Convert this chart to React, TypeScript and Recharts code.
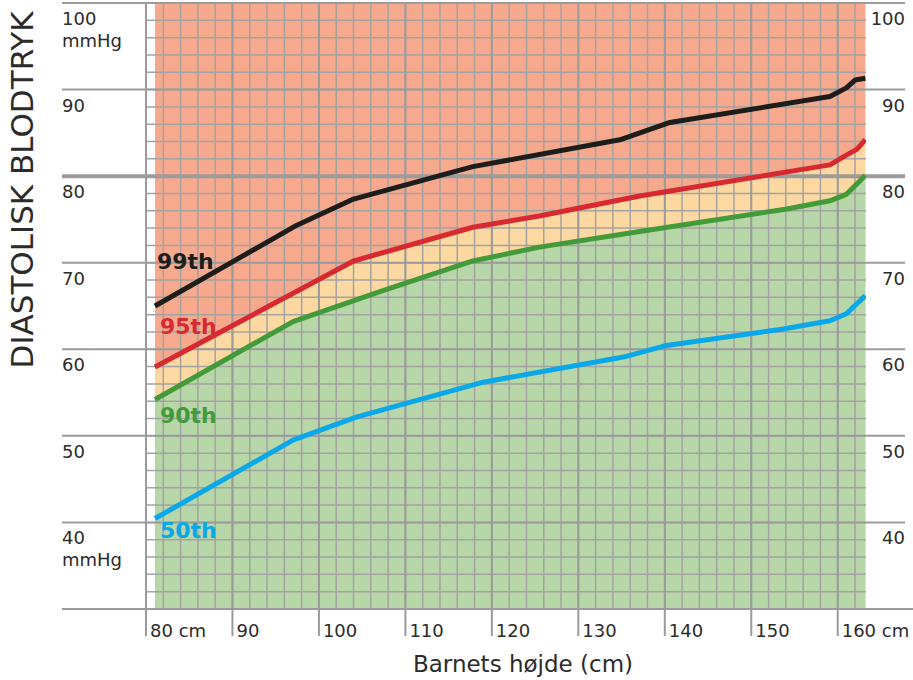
import React from 'react';
import {
  ComposedChart,
  Line,
  Area,
  XAxis,
  YAxis,
  CartesianGrid,
  ReferenceLine,
  LabelList,
} from 'recharts';

// ---------- data (height in cm, diastolic pressure in mmHg) ----------
const p99Height = [81.04, 97.2, 104.0, 117.8, 134.8, 140.6, 159.1, 161.0, 162.0, 163.2];
const p99Value = [65.0, 74.2, 77.35, 81.1, 84.2, 86.2, 89.2, 90.2, 91.1, 91.3];

const p95Height = [81.04, 104.0, 117.8, 125.5, 137.1, 159.1, 160.6, 162.2, 163.2];
const p95Value = [57.95, 70.2, 74.1, 75.4, 77.7, 81.3, 82.2, 83.1, 84.2];

const p90Height = [81.04, 97.0, 107.05, 117.8, 125.5, 137.1, 154.1, 159.1, 161.0, 162.2, 163.2];
const p90Value = [54.2, 63.2, 66.65, 70.2, 71.8, 73.6, 76.2, 77.15, 77.9, 79.1, 80.1];

const p50Height = [81.04, 97.0, 104.4, 119.0, 135.2, 140.0, 153.7, 159.1, 161.0, 163.2];
const p50Value = [40.45, 49.5, 52.2, 56.2, 59.1, 60.4, 62.35, 63.3, 64.1, 66.2];

const xTickValues = [80, 90, 100, 110, 120, 130, 140, 150, 160];
const xTickLabels = ['80 cm', '90', '100', '110', '120', '130', '140', '150', '160 cm'];
const yTickValues = [30, 40, 50, 60, 70, 80, 90, 100];
const yLeftLabels = [[], ['40', 'mmHg'], ['50'], ['60'], ['70'], ['80'], ['90'], ['100', 'mmHg']];
const yRightLabels = ['', '40', '50', '60', '70', '80', '90', '100'];

const xMinor = Array.from({ length: 42 }, (_, i) => 80 + i * 2);
const yMinor = Array.from({ length: 36 }, (_, i) => 30 + i * 2);

const X_DOMAIN: [number, number] = [80, 163.27];
const Y_DOMAIN: [number, number] = [30, 100];
const TOP_VALUE = 100;

const toRows = (xs: number[], ys: number[]) => xs.map((x, i) => ({ x, y: ys[i] }));
const p99 = toRows(p99Height, p99Value);
const p95 = toRows(p95Height, p95Value);
const p90 = toRows(p90Height, p90Value);
const p50 = toRows(p50Height, p50Value);

// ---------- style ----------
const W = 913;
const H = 680;
const FONT = "'DejaVu Sans', sans-serif";
const MAJOR = '#9b9b9b';
const MINOR = '#a3a3a3';
const SALMON = '#f6a98c';
const ORANGE = '#fdd9a1';
const GREEN = '#b7d7a9';
const TEXT = '#2b2b2b';

const PLOT_MARGIN = { top: 3, right: 47, bottom: 71, left: 146 };

const XTick = (props: any) => {
  const { x, y, payload } = props;
  const idx = xTickValues.indexOf(payload.value);
  return (
    <g>
      <line x1={x} x2={x} y1={y} y2={y + 27} stroke={MAJOR} strokeWidth={2} />
      <text x={x + 4} y={y + 28} fontSize={18} fill={TEXT} fontFamily={FONT}>
        {xTickLabels[idx]}
      </text>
    </g>
  );
};

const LeftTick = (props: any) => {
  const { x, y, payload } = props;
  const idx = yTickValues.indexOf(payload.value);
  const lines = yLeftLabels[idx] || [];
  return (
    <g>
      <line x1={x - 84} x2={x} y1={y} y2={y} stroke={MAJOR} strokeWidth={payload.value === 80 ? 4 : 2} />
      {lines.map((t: string, i: number) => (
        <text key={i} x={x - 84} y={y + 22 + i * 22} fontSize={18} fill={TEXT} fontFamily={FONT}>
          {t}
        </text>
      ))}
    </g>
  );
};

const RightTick = (props: any) => {
  const { x, y, payload } = props;
  const idx = yTickValues.indexOf(payload.value);
  const isBottom = payload.value === 30;
  return (
    <g>
      <line
        x1={x}
        x2={x + (isBottom ? 47 : 39)}
        y1={y}
        y2={y}
        stroke={MAJOR}
        strokeWidth={payload.value === 80 ? 4 : 2}
      />
      {yRightLabels[idx] ? (
        <text x={x + 39} y={y + 22} fontSize={18} fill={TEXT} fontFamily={FONT} textAnchor="end">
          {yRightLabels[idx]}
        </text>
      ) : null}
    </g>
  );
};

const makeLabel = (text: string, color: string, dx: number, dy: number) => (props: any) => {
  if (props.index !== 0) return null;
  return (
    <text
      x={Number(props.x) + dx}
      y={Number(props.y) + dy}
      fill={color}
      fontSize={22}
      fontWeight="bold"
      fontFamily={FONT}
    >
      {text}
    </text>
  );
};

const series = [
  { name: '99th', data: p99, color: '#1d1d1b', dx: 2, dy: -37 },
  { name: '95th', data: p95, color: '#d62a30', dx: 5, dy: -33 },
  { name: '90th', data: p90, color: '#429a38', dx: 5, dy: 24 },
  { name: '50th', data: p50, color: '#0aa8e8', dx: 5, dy: 19 },
];

const layer: React.CSSProperties = { position: 'absolute', left: 0, top: 0 };

export default function App() {
  return (
    <div style={{ position: 'absolute', left: 0, top: 0, width: W, height: H, background: '#fff', overflow: 'hidden' }}>
      {/* Layer A: coloured zones */}
      <div style={layer}>
        <ComposedChart width={W} height={H} margin={PLOT_MARGIN}>
          <XAxis type="number" dataKey="x" domain={X_DOMAIN} hide allowDataOverflow />
          <YAxis type="number" domain={Y_DOMAIN} hide allowDataOverflow />
          <Area
            data={p95}
            dataKey={(d: any) => [d.y, TOP_VALUE]}
            type="linear"
            stroke="none"
            fill={SALMON}
            fillOpacity={1}
            isAnimationActive={false}
          />
          <Area data={p95} dataKey="y" type="linear" stroke="none" fill={ORANGE} fillOpacity={1} isAnimationActive={false} />
          <Area data={p90} dataKey="y" type="linear" stroke="none" fill={GREEN} fillOpacity={1} isAnimationActive={false} />
        </ComposedChart>
      </div>

      {/* Layer B: grid, axes, titles */}
      <div style={layer}>
        <ComposedChart width={W} height={H} margin={{ top: 3, right: 0, bottom: 1, left: 0 }} data={p99}>
          <CartesianGrid
            horizontalValues={yMinor}
            verticalValues={xMinor}
            stroke={MINOR}
            strokeWidth={1.5}
            fill="none"
          />
          <XAxis
            type="number"
            dataKey="x"
            domain={X_DOMAIN}
            allowDataOverflow
            ticks={xTickValues}
            interval={0}
            height={70}
            axisLine={false}
            tickLine={false}
            tickSize={0}
            tickMargin={0}
            tick={<XTick />}
            label={{
              value: 'Barnets højde (cm)',
              position: 'insideBottom',
              offset: 7,
              dx: 17,
              fontSize: 23,
              fill: TEXT,
              fontFamily: FONT,
            }}
          />
          <YAxis
            type="number"
            domain={Y_DOMAIN}
            allowDataOverflow
            ticks={yTickValues}
            interval={0}
            width={146}
            axisLine={false}
            tickLine={false}
            tickSize={0}
            tickMargin={0}
            tick={<LeftTick />}
            label={{
              value: 'DIASTOLISK BLODTRYK',
              angle: -90,
              position: 'center',
              dx: -51,
              dy: -116,
              fontSize: 31,
              fill: TEXT,
              fontFamily: FONT,
            }}
          />
          <YAxis
            yAxisId="r"
            orientation="right"
            type="number"
            domain={Y_DOMAIN}
            allowDataOverflow
            ticks={yTickValues}
            interval={0}
            width={47}
            axisLine={false}
            tickLine={false}
            tickSize={0}
            tickMargin={0}
            tick={<RightTick />}
          />
          {xTickValues.map((v) => (
            <ReferenceLine key={'vx' + v} x={v} stroke={MAJOR} strokeWidth={2} />
          ))}
          {yTickValues.map((v) => (
            <ReferenceLine key={'hy' + v} y={v} stroke={MAJOR} strokeWidth={v === 80 ? 4 : 2} />
          ))}
        </ComposedChart>
      </div>

      {/* Layer C: percentile curves */}
      <div style={layer}>
        <ComposedChart width={W} height={H} margin={PLOT_MARGIN}>
          <XAxis type="number" dataKey="x" domain={X_DOMAIN} hide allowDataOverflow />
          <YAxis type="number" domain={Y_DOMAIN} hide allowDataOverflow />
          {series.map((s) => (
            <Line
              key={s.name}
              data={s.data}
              dataKey="y"
              type="linear"
              stroke={s.color}
              strokeWidth={5}
              strokeLinejoin="round"
              dot={false}
              activeDot={false}
              isAnimationActive={false}
            >
              <LabelList dataKey="y" content={makeLabel(s.name, s.color, s.dx, s.dy)} />
            </Line>
          ))}
        </ComposedChart>
      </div>
    </div>
  );
}
